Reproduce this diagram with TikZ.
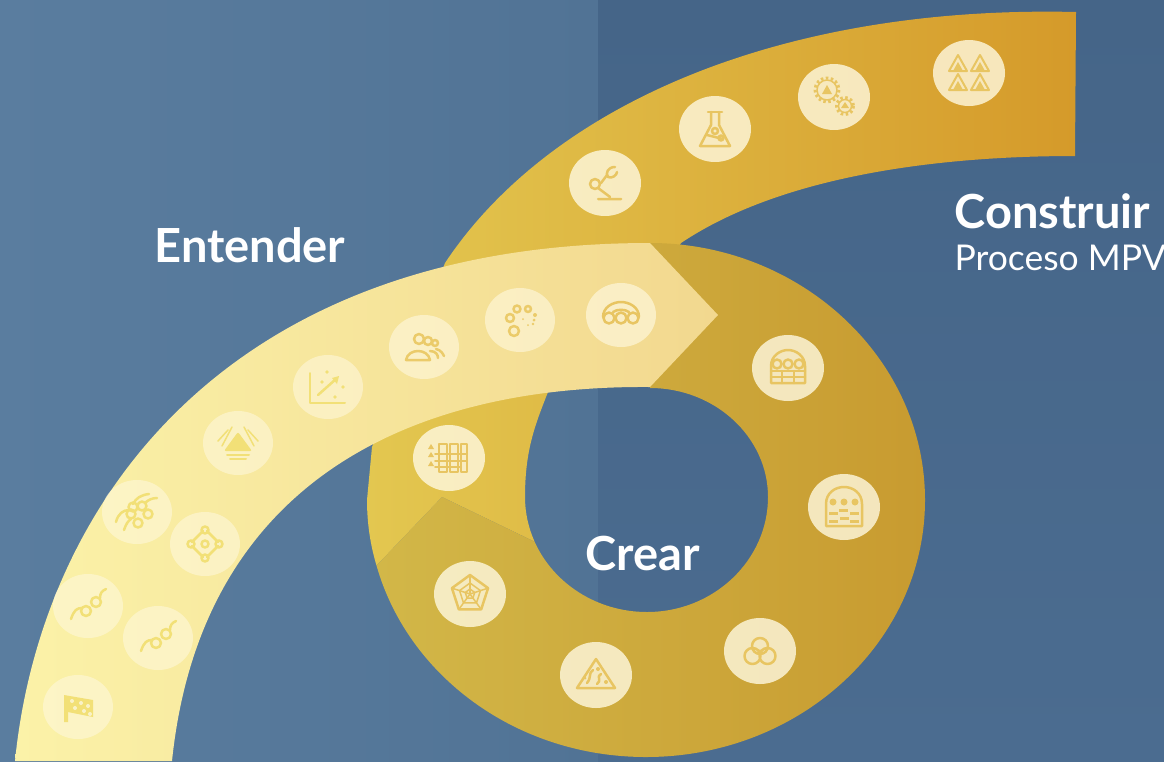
\documentclass[tikz,border=0pt]{standalone}
\usepackage{fontspec}
\setmainfont{Lato}
\usepackage{tikz}
\usetikzlibrary{shapes.geometric}
\definecolor{sea light}{HTML}{5A7D9F}
\definecolor{sea mid}{HTML}{517395}
\definecolor{sea dark}{HTML}{456588}
\definecolor{sea deep}{HTML}{4B6C90}
\definecolor{band pale}{HTML}{FBF2A8}
\definecolor{band sand}{HTML}{F2D88F}
\definecolor{band gold}{HTML}{E3C750}
\definecolor{band amber}{HTML}{D59A2A}
\definecolor{ring gold}{HTML}{D2B748}
\definecolor{ring amber}{HTML}{C89B30}
\definecolor{pen pale}{HTML}{F2E077}
\definecolor{pen sand}{HTML}{EBCB6A}
\definecolor{pen gold}{HTML}{E8C562}
\definecolor{spot cream}{HTML}{FFF9E0}
\tikzset{
	iconspot/.style={ellipse, minimum width=70, minimum height=64, inner sep=0, fill=spot cream, fill opacity=#1},
	iconspot/.default=0.55,
	goldspot/.style={iconspot=0.8, minimum width=72, minimum height=66},
	iconpen/.style 2 args={shift={(#1)}, draw=#2, fill=#2, line width=1.5, line cap=round, line join=round},
	bigword/.style={anchor=base west, text=white, font=\bfseries\fontsize{47}{47}\selectfont},
	smallword/.style={anchor=base west, text=white, font=\fontsize{35.5}{35.5}\selectfont}
}
\begin{document}
\begin{tikzpicture}[x=1pt, y=-1pt]
	\useasboundingbox (0, 0) rectangle (1164, 761);
	\clip (0, 0) rectangle (1164, 761);
	% part for the background
	\shade[left color=sea light, right color=sea mid] (0, 0) rectangle (598, 761);
	\shade[top color=sea dark, bottom color=sea deep] (598, 0) rectangle (1164, 761);
	% part for the Construir band, with the left of the ring
	\shade[left color=band gold, right color=band amber]
		(376.5, 565.5) .. controls (370.2, 544.5) and (367, 522.7) .. (367, 500)
		-- (372, 447) -- (445, 263)
		.. controls (550, 105) and (780, 5) .. (1076, 12)
		-- (1075, 156)
		.. controls (960, 156) and (790, 170) .. (681, 243)
		-- (650, 300) -- (548, 392)
		.. controls (535, 425) and (525, 450) .. (525, 497)
		.. controls (525, 512.75) and (528.4, 527.8) .. (534.6, 541.7)
		-- (442, 497) -- cycle;
	% part for the ring
	\shade[left color=ring gold, right color=ring amber]
		(650, 243) .. controls (800, 243) and (925, 358) .. (925, 500)
		.. controls (925, 642) and (800, 757) .. (646, 757)
		.. controls (516.6, 757) and (407.8, 675.9) .. (376.5, 565.5)
		-- (442, 497) -- (534.6, 541.7)
		.. controls (553.25, 583.25) and (596.75, 612) .. (647, 612)
		.. controls (714, 612) and (768, 560) .. (768, 497)
		.. controls (768, 437) and (715, 388) .. (650, 388)
		-- cycle;
	% part for the Entender arrow
	\shade[left color=band pale, right color=band sand]
		(15, 761) .. controls (40, 510) and (220, 243) .. (650, 243)
		-- (718, 315) -- (650, 387)
		.. controls (400, 385) and (200, 490) .. (172, 761)
		-- cycle;
	% spots for the icons
	\node[iconspot] (flag) at (78, 707) {};
	\node[iconspot] (linkA) at (88, 606) {};
	\node[iconspot] (linkB) at (158, 638) {};
	\node[iconspot] (grape) at (137, 512) {};
	\node[iconspot] (rhomb) at (205, 544) {};
	\node[iconspot] (dome) at (238, 443) {};
	\node[iconspot] (chart) at (328, 387) {};
	\node[iconspot=0.6] (people) at (424, 347) {};
	\node[iconspot=0.6] (swirl) at (520, 320) {};
	\node[iconspot=0.65] (arch) at (621, 315) {};
	\node[goldspot] (grid) at (449, 458) {};
	\node[goldspot] (robot) at (605, 183) {};
	\node[goldspot] (flask) at (715, 129) {};
	\node[goldspot] (gears) at (834, 97) {};
	\node[goldspot] (peaks) at (969, 73) {};
	\node[goldspot] (hall) at (788, 368) {};
	\node[goldspot] (panel) at (844, 507) {};
	\node[goldspot] (venn) at (760, 651) {};
	\node[goldspot] (slice) at (596, 675) {};
	\node[goldspot] (radar) at (470, 594) {};
	% icon flag
	\begin{scope}[iconpen={flag}{pen pale}]
		\fill (-14, -12) -- (15, -7) -- (15, 10) -- (-10, 5) -- (-10, 15) -- (-14, 15) -- cycle;
		\foreach \px/\py in {-6/-6, 3/-4, 10/-1, -3/1, 6/4, 12/7}
			\fill[white, opacity=0.6] (\px, \py) circle (2);
	\end{scope}
	% icons link
	\foreach \linkname in {linkA, linkB} {
		\begin{scope}[iconpen={\linkname}{pen pale}, line width=2.5]
			\draw[fill=none] (-17, 13) .. controls (-14, 4) and (-11, 2) .. (-6, 2);
			\draw[fill=none] (-2, 5) circle (5) (8, -4) circle (5);
			\draw[fill=none] (12, -8) .. controls (12, -13) and (14, -15) .. (18, -17);
		\end{scope}
	}
	% icon grape
	\begin{scope}[iconpen={grape}{pen pale}, line width=2.5]
		\draw[fill=none] (-21, 10) .. controls (-19, 2) and (-14, -2) .. (-8, -2);
		\draw[fill=none] (-13, 18) .. controls (-11, 12) and (-9, 9) .. (-6, 7);
		\draw[fill=none] (-4, -8) .. controls (-1, -14) and (4, -17) .. (12, -18);
		\draw[fill=none] (8, -9) .. controls (11, -12) and (15, -14) .. (20, -14);
		\foreach \px/\py in {-6/2, 5/-6, 11/2, 1/11, -4/-5}
			\draw[fill=none] (\px, \py) circle (4.5);
	\end{scope}
	% icon rhomb
	\begin{scope}[iconpen={rhomb}{pen pale}, line width=2.5]
		\draw[fill=none] (-13, -2) -- (-2, -13) (2, -13) -- (13, -2) (13, 2) -- (2, 13) (-2, 13) -- (-13, 2);
		\foreach \px/\py in {-14/0, 14/0, 0/-14, 0/14, 0/0}
			\draw[fill=none] (\px, \py) circle (3.5);
	\end{scope}
	% icon dome
	\begin{scope}[iconpen={dome}{pen pale}]
		\fill[rounded corners=2] (0, -11) -- (14, 8) -- (-14, 8) -- cycle;
		\draw[fill=none] (-20, -2) -- (-10, -13) (-16, 3) -- (-6, -16) (20, -2) -- (10, -13) (16, 3) -- (6, -16);
		\draw[fill=none, line width=2] (-11, 12) -- (11, 12) (-8, 16) -- (8, 16);
	\end{scope}
	% icon chart
	\begin{scope}[iconpen={chart}{pen pale}]
		\draw[fill=none, line width=2] (-18, -14) -- (-18, 16) -- (17, 16);
		\draw[fill=none, line width=2.5] (-10, 8) -- (8, -8);
		\fill (11, -11) -- (4, -9) -- (9, -3) -- cycle;
		\foreach \px/\py in {-6/-5, -1/-15, 15/0, 7/10}
			\fill (\px, \py) circle (1.8);
	\end{scope}
	% icon people
	\begin{scope}[iconpen={people}{pen sand}, line width=2.5]
		\draw[fill=none] (-5, -8) circle (5) (4, -6) circle (4) (11, -4) circle (3);
		\draw[fill=none] (-18, 13) .. controls (-16, 1) and (4, 1) .. (6, 13) -- cycle;
		\draw[fill=none] (6, 4) .. controls (12, 4) and (14, 8) .. (14, 11);
		\draw[fill=none] (12, 2) .. controls (17, 3) and (19, 7) .. (20, 9);
	\end{scope}
	% icon swirl
	\begin{scope}[iconpen={swirl}{pen sand}, line width=2.5]
		\foreach \px/\py/\pr in {-6/11/5, -10/-2/4, -3/-11/3.5, 8/-11/3}
			\draw[fill=none] (\px, \py) circle (\pr);
		\foreach \px/\py/\pr in {15/-5/2, 14/0/1.5, 13/4/1.3, 8/5/1, 3/-1/1}
			\fill (\px, \py) circle (\pr);
	\end{scope}
	% icon arch
	\begin{scope}[iconpen={arch}{pen gold}, line width=2.5]
		\draw[fill=none] (-18, 2) .. controls (-18, -8) and (-8, -13) .. (0, -13) .. controls (8, -13) and (18, -8) .. (18, 2);
		\draw[fill=none] (-8, -3) .. controls (-4, -6) and (4, -6) .. (8, -3);
		\foreach \px in {-12, 0, 12}
			\draw[fill=none] (\px, 3) circle (5.5);
	\end{scope}
	% icon grid
	\begin{scope}[iconpen={grid}{pen gold}, line width=2]
		\foreach \py in {-9, -1, 8}
			\fill (-21, \py) -- (-15, \py) -- (-18, \py-5) -- cycle;
		\foreach \px/\pw in {-10/8, 1/8, 12/6}
			\draw[fill=none] (\px, -14) rectangle (\px+\pw, 14);
		\draw[fill=none] (-14, -4) -- (18, -4) (-14, 3) -- (18, 3) (-14, 9) -- (12, 9);
	\end{scope}
	% icon robot
	\begin{scope}[iconpen={robot}{pen gold}, line width=2.5]
		\draw[fill=none] (-10, 1) circle (5);
		\draw[fill=none] (-7, 16) -- (16, 16) (-7, 5) -- (5, 14) (-4, 0) -- (2, -8);
		\draw[fill=none] (10, -16) .. controls (3, -16) and (0, -10) .. (3, -6) .. controls (7, -4) and (12, -8) .. (12, -11);
	\end{scope}
	% icon flask
	\begin{scope}[iconpen={flask}{pen gold}, line width=2.5]
		\draw[fill=none] (-7, -17) -- (7, -17);
		\draw[fill=none] (-4, -17) -- (-4, -4) -- (-15, 17) -- (15, 17) -- (4, -4) -- (4, -17);
		\draw[fill=none] (-8, 6) -- (8, 10);
		\draw[fill=none] (0, 2) circle (3) (6, 9) circle (2.5);
	\end{scope}
	% icon gears
	\begin{scope}[iconpen={gears}{pen gold}]
		\draw[fill=none] (-7, -7) circle (10) (11, 9) circle (6.5);
		\draw[fill=none, line width=3, line cap=butt, dash pattern=on 2.5 off 2.5] (-7, -7) circle (12) (11, 9) circle (8.5);
		\fill (-7, -12) -- (-2, -3) -- (-12, -3) -- cycle (11, 5) -- (15, 11) -- (7, 11) -- cycle;
	\end{scope}
	% icon peaks
	\begin{scope}[iconpen={peaks}{pen gold}, line width=2]
		\foreach \px/\py in {-11/-9, 11/-9, -11/10, 11/10} {
			\draw[fill=none] (\px, \py-9) -- (\px+9, \py+7) -- (\px-9, \py+7) -- cycle;
			\fill (\px, \py-2) -- (\px+5, \py+7) -- (\px-5, \py+7) -- cycle;
		}
	\end{scope}
	% icon hall
	\begin{scope}[iconpen={hall}{pen gold}, line width=2.5]
		\draw[fill=none] (-17, 15) -- (-17, -2) .. controls (-17, -12) and (-8, -18) .. (0, -18) .. controls (8, -18) and (17, -12) .. (17, -2) -- (17, 15) -- cycle;
		\draw[fill=none] (-17, 3) -- (17, 3) (-17, 9) -- (17, 9) (-6, 3) -- (-6, 15) (6, 3) -- (6, 15);
		\foreach \px in {-11, 0, 11}
			\draw[fill=none] (\px, -4) circle (4.5);
	\end{scope}
	% icon panel
	\begin{scope}[iconpen={panel}{pen gold}, line width=2.5]
		\draw[fill=none] (-18, 19) -- (-18, -3) .. controls (-18, -14) and (-9, -20) .. (0, -20) .. controls (9, -20) and (18, -14) .. (18, -3) -- (18, 19) -- cycle;
		\foreach \px in {-11, 0, 11}
			\fill (\px, -5) circle (3.5);
		\foreach \px/\py in {-15/5, -5/2, 6/5, -15/13, -4/10, 6/13}
			\fill (\px, \py) rectangle (\px+9, \py+3);
	\end{scope}
	% icon venn
	\begin{scope}[iconpen={venn}{pen gold}, line width=2.5]
		\draw[fill=none] (0, -5) circle (8) (-7.5, 5) circle (8) (7.5, 5) circle (8);
		\fill (0, 1) circle (2.5);
	\end{scope}
	% icon slice
	\begin{scope}[iconpen={slice}{pen gold}, line width=2.5]
		\draw[fill=none] (0, -16) -- (19, 13) -- (-19, 13) -- cycle;
		\draw[fill=none] (-9, 8) .. controls (-4, 2) and (-8, -2) .. (-3, -5);
		\draw[fill=none] (1, 9) .. controls (6, 6) and (0, 1) .. (5, -1);
		\fill (2, -6) circle (2) (-11, 3) circle (1.5) (10, 7) circle (2);
	\end{scope}
	% icon radar
	\begin{scope}[iconpen={radar}{pen gold}]
		\draw[fill=none, line width=2.5] (-90:19) -- (-18:19) -- (54:19) -- (126:19) -- (198:19) -- cycle;
		\draw[fill=none] (-90:11) -- (-18:11) -- (54:11) -- (126:11) -- (198:11) -- cycle;
		\draw[fill=none] (-90:5) -- (-18:5) -- (54:5) -- (126:5) -- (198:5) -- cycle;
		\foreach \pa in {-90, -18, 54, 126, 198}
			\draw[fill=none] (0, 0) -- (\pa:19);
	\end{scope}
	% labels
	\node[bigword] (entender) at (151, 262) {Entender};
	\node[bigword] (construir) at (951, 228) {Construir};
	\node[smallword] (proceso) at (951, 270) {Proceso MPV};
	\node[bigword] (crear) at (582, 570) {Crear};
\end{tikzpicture}
\end{document}
